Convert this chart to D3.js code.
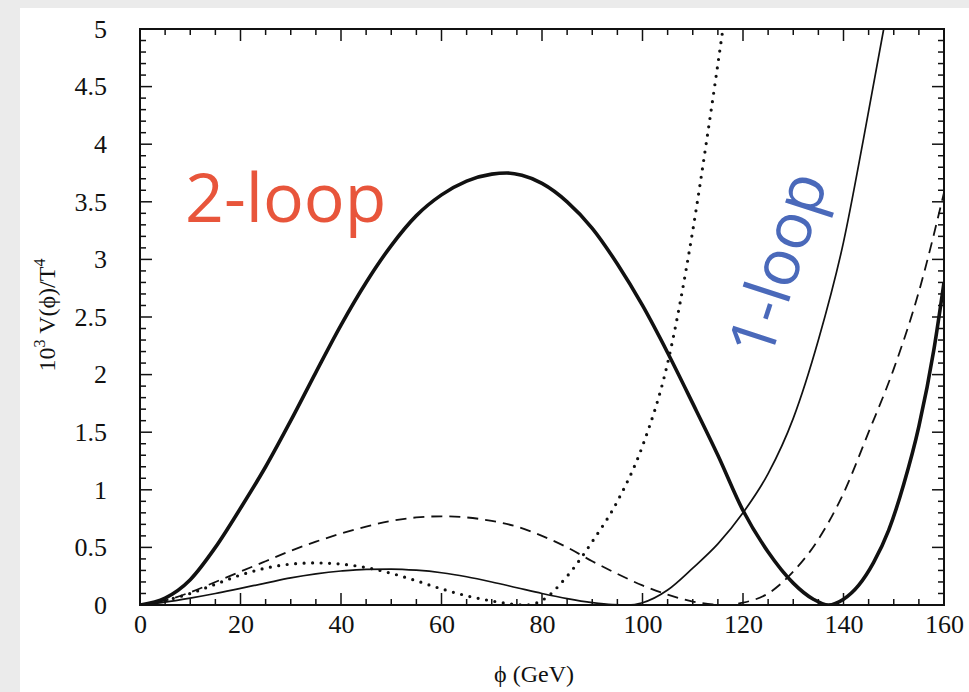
<!DOCTYPE html>
<html><head><meta charset="utf-8">
<script src="https://cdn.jsdelivr.net/npm/d3@7"></script>
<style>body{margin:0;background:#ebebeb;} svg{display:block;}</style>
</head><body>
<svg id="c" width="969" height="692"></svg>
<script>
// ---- data ----
const xTicks = [0, 20, 40, 60, 80, 100, 120, 140, 160];
const yTicks = [0, 0.5, 1, 1.5, 2, 2.5, 3, 3.5, 4, 4.5, 5];
const yTickLabels = ["0", "0.5", "1", "1.5", "2", "2.5", "3", "3.5", "4", "4.5", "5"];

// thick solid (2-loop)
const phiThick = [0, 5, 10, 15, 20, 25, 30, 35, 40, 45, 50, 55, 60, 65, 70, 73, 76, 80, 85, 90, 95, 100, 105, 110, 115, 120, 125, 130, 134, 137, 140, 143, 146, 149, 152, 155, 158, 160];
const vThick   = [0, 0.06, 0.22, 0.5, 0.84, 1.2, 1.6, 2.02, 2.43, 2.8, 3.12, 3.38, 3.56, 3.68, 3.74, 3.75, 3.73, 3.66, 3.5, 3.27, 2.96, 2.6, 2.19, 1.75, 1.3, 0.82, 0.46, 0.19, 0.05, 0, 0.05, 0.17, 0.37, 0.65, 1.05, 1.55, 2.22, 2.8];

// thin solid
const phiThin = [0, 5, 10, 15, 20, 25, 30, 35, 40, 45, 50, 55, 60, 65, 70, 75, 80, 85, 90, 94, 97, 100, 105, 110, 115, 120, 125, 130, 135, 140, 144, 148];
const vThin   = [0, 0.025, 0.06, 0.1, 0.145, 0.19, 0.235, 0.27, 0.295, 0.31, 0.312, 0.302, 0.28, 0.245, 0.2, 0.15, 0.1, 0.055, 0.02, 0.003, 0, 0.02, 0.13, 0.32, 0.53, 0.8, 1.14, 1.62, 2.3, 3.15, 4.05, 5.0];

// dashed
const phiDash = [0, 5, 10, 15, 20, 25, 30, 35, 40, 45, 50, 55, 60, 65, 70, 75, 80, 85, 90, 95, 100, 105, 110, 114, 117, 120, 125, 130, 135, 140, 145, 150, 155, 160];
const vDash   = [0, 0.04, 0.11, 0.2, 0.29, 0.38, 0.47, 0.55, 0.62, 0.68, 0.73, 0.76, 0.77, 0.76, 0.73, 0.68, 0.6, 0.5, 0.38, 0.27, 0.17, 0.09, 0.03, 0.005, 0, 0.02, 0.1, 0.29, 0.57, 0.97, 1.5, 2.05, 2.72, 3.58];

// dotted
const phiDot = [0, 5, 10, 15, 20, 25, 30, 35, 40, 45, 50, 55, 60, 65, 70, 74, 77, 80, 85, 90, 95, 100, 105, 110, 113, 116];
const vDot   = [0, 0.04, 0.1, 0.18, 0.26, 0.32, 0.355, 0.365, 0.355, 0.325, 0.275, 0.21, 0.14, 0.08, 0.035, 0.008, 0, 0.04, 0.25, 0.55, 0.9, 1.38, 2.1, 3.25, 4.1, 5.0];

const labels = ["2-loop", "1-loop"];

// ---- layout ----
const svg = d3.select("#c");
const M = {l: 140, t: 29, r: 944, b: 605};
const x = d3.scaleLinear().domain([0, 160]).range([M.l, M.r]);
const y = d3.scaleLinear().domain([0, 5]).range([M.b, M.t]);

svg.append("rect").attr("x", 20).attr("y", 8).attr("width", 949).attr("height", 684).attr("fill", "#fff");

svg.append("clipPath").attr("id", "clip").append("rect")
  .attr("x", M.l).attr("y", M.t).attr("width", M.r - M.l).attr("height", M.b - M.t);

// ticks on all four sides (inside)
const g = svg.append("g").attr("stroke", "#111").attr("stroke-width", 1.5);
const xMinor = d3.range(0, 161, 5), yMinor = d3.range(0, 5.001, 0.1);
xMinor.forEach(v => {
  const L = (v % 20 === 0) ? 12 : 6;
  g.append("line").attr("x1", x(v)).attr("x2", x(v)).attr("y1", M.b).attr("y2", M.b - L);
  g.append("line").attr("x1", x(v)).attr("x2", x(v)).attr("y1", M.t).attr("y2", M.t + L);
});
yMinor.forEach(v => {
  const major = Math.abs(v * 2 - Math.round(v * 2)) < 1e-6;
  const L = major ? 12 : 6;
  g.append("line").attr("y1", y(v)).attr("y2", y(v)).attr("x1", M.l).attr("x2", M.l + L);
  g.append("line").attr("y1", y(v)).attr("y2", y(v)).attr("x1", M.r).attr("x2", M.r - L);
});

// axis labels via d3 axes (no domain/ticks drawn)
const xa = svg.append("g").attr("transform", `translate(0,${M.b})`)
  .call(d3.axisBottom(x).tickValues(xTicks).tickSize(0).tickPadding(10).tickFormat(d3.format("d")));
const ya = svg.append("g").attr("transform", `translate(${M.l},0)`)
  .call(d3.axisLeft(y).tickValues(yTicks).tickSize(0).tickPadding(33).tickFormat((d, i) => yTickLabels[i]));
[xa, ya].forEach(a => {
  a.select(".domain").remove();
  a.selectAll("text").attr("font-family", "Liberation Serif, Times New Roman, serif")
    .attr("font-size", 26).attr("fill", "#111");
});

// curves
const line = d3.line().x(d => x(d[0])).y(d => y(d[1])).curve(d3.curveMonotoneX);
const zip = (a, b) => a.map((v, i) => [v, b[i]]);
const cg = svg.append("g").attr("clip-path", "url(#clip)").attr("fill", "none").attr("stroke", "#111");
cg.append("path").attr("d", line(zip(phiDash, vDash))).attr("stroke-width", 1.8).attr("stroke-dasharray", "11,7");
cg.append("path").attr("d", line(zip(phiDot, vDot))).attr("stroke-width", 3.2).attr("stroke-linecap", "round").attr("stroke-dasharray", "0,8.5");
cg.append("path").attr("d", line(zip(phiThin, vThin))).attr("stroke-width", 1.7);
cg.append("path").attr("d", line(zip(phiThick, vThick))).attr("stroke-width", 3.6);

// frame
svg.append("rect").attr("x", M.l).attr("y", M.t).attr("width", M.r - M.l).attr("height", M.b - M.t)
  .attr("fill", "none").attr("stroke", "#111").attr("stroke-width", 2);

// axis titles
svg.append("text").attr("x", 534).attr("y", 682).attr("text-anchor", "middle")
  .attr("font-family", "Liberation Serif, Times New Roman, serif").attr("font-size", 24).attr("fill", "#111")
  .text("\u03d5 (GeV)");
const yt = svg.append("text").attr("transform", "translate(55,315) rotate(-90)").attr("text-anchor", "middle")
  .attr("font-family", "Liberation Serif, Times New Roman, serif").attr("font-size", 24).attr("fill", "#111");
yt.append("tspan").text("10");
yt.append("tspan").attr("dy", -10).attr("font-size", 16).text("3");
yt.append("tspan").attr("dy", 10).text(" V(\u03d5)/T");
yt.append("tspan").attr("dy", -10).attr("font-size", 16).text("4");

// annotations
svg.append("text").attr("x", 185).attr("y", 222).attr("font-family", "Open Sans, sans-serif")
  .attr("font-size", 68).attr("fill", "#e8553b").text(labels[0]);
svg.append("text").attr("transform", "translate(777,264) rotate(-72)").attr("text-anchor", "middle").attr("dy", "0.36em")
  .attr("font-family", "Open Sans, sans-serif").attr("font-size", 64).attr("fill", "#4a69ba").text(labels[1]);
</script>
</body></html>
